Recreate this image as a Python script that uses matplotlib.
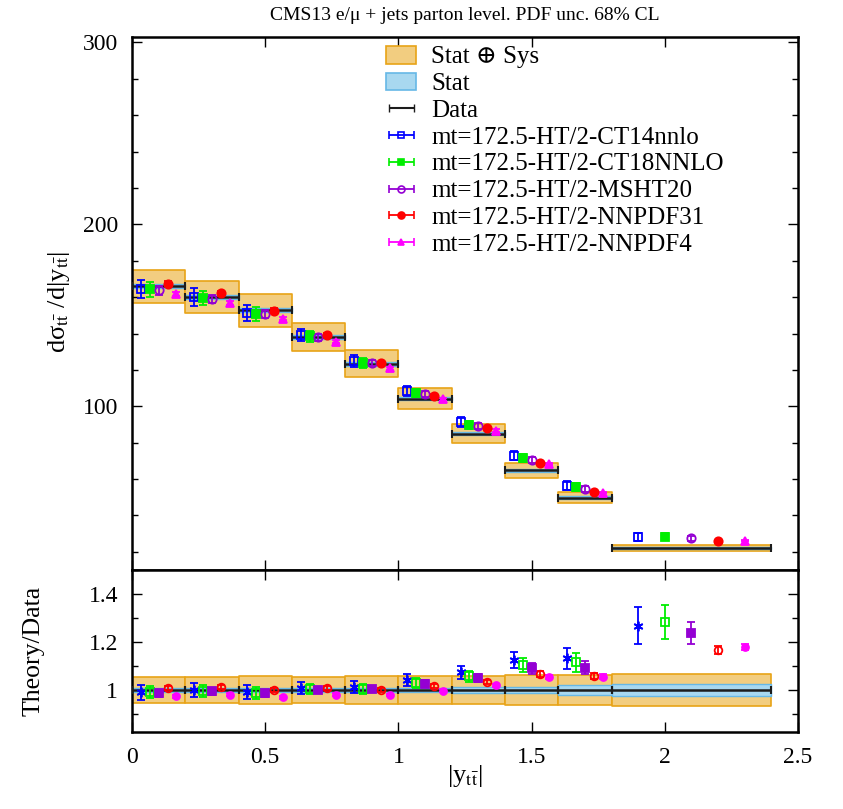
import numpy as np
import matplotlib
matplotlib.use('Agg')
import matplotlib.pyplot as plt
from matplotlib.ticker import MultipleLocator, FuncFormatter
from matplotlib.patches import Patch

plt.rcParams['font.family'] = ['Liberation Serif', 'DejaVu Serif']
plt.rcParams['mathtext.fontset'] = 'stix'

# bin edges in |y_tt|
edges = [0.0, 0.2, 0.4, 0.6, 0.8, 1.0, 1.2, 1.4, 1.6, 1.8, 2.4]
# measured cross section and relative uncertainties
data = [166, 160, 152.7, 138, 123.4, 104.2, 85, 64.8, 49.8, 22.1]
stat_rel = [0.007, 0.007, 0.007, 0.008, 0.008, 0.009, 0.011, 0.013, 0.020, 0.024]
tot_rel = [0.055, 0.056, 0.059, 0.056, 0.060, 0.057, 0.059, 0.063, 0.064, 0.066]

# theory / data ratios and relative PDF uncertainties
names = ['mt=172.5-HT/2-CT14nnlo', 'mt=172.5-HT/2-CT18NNLO', 'mt=172.5-HT/2-MSHT20',
         'mt=172.5-HT/2-NNPDF31', 'mt=172.5-HT/2-NNPDF4']
ratio_ct14 = [0.990, 1.000, 0.991, 1.009, 1.012, 1.040, 1.074, 1.124, 1.133, 1.267]
ratio_ct18 = [0.990, 0.997, 0.988, 1.004, 1.004, 1.029, 1.057, 1.104, 1.115, 1.283]
ratio_msht = [0.986, 0.994, 0.986, 0.999, 1.004, 1.026, 1.050, 1.090, 1.093, 1.239]
ratio_nn31 = [1.009, 1.013, 0.999, 1.009, 1.001, 1.016, 1.033, 1.066, 1.057, 1.167]
ratio_nn4 = [0.974, 0.980, 0.970, 0.981, 0.979, 0.997, 1.019, 1.054, 1.056, 1.179]
err_ct14 = [0.030, 0.030, 0.030, 0.025, 0.025, 0.025, 0.028, 0.034, 0.044, 0.077]
err_ct18 = [0.025, 0.025, 0.025, 0.022, 0.022, 0.022, 0.024, 0.029, 0.039, 0.070]
err_msht = [0.015, 0.015, 0.015, 0.013, 0.013, 0.015, 0.017, 0.023, 0.028, 0.046]
err_nn31 = [0.008, 0.008, 0.008, 0.008, 0.008, 0.009, 0.010, 0.012, 0.013, 0.015]
err_nn4 = [0.006, 0.006, 0.006, 0.006, 0.006, 0.007, 0.008, 0.009, 0.010, 0.012]

ratios = [ratio_ct14, ratio_ct18, ratio_msht, ratio_nn31, ratio_nn4]
rel_errs = [err_ct14, err_ct18, err_msht, err_nn31, err_nn4]
colors = ['#0000ff', '#00ee00', '#9400d3', '#ff0000', '#ff00ff']
# gnuplot-like point types: top panel and ratio panel differ
top_mk = [('s', 'none', 6), ('s', 'full', 6), ('o', 'none', 6), ('o', 'full', 6), ('^', 'full', 6)]
bot_mk = [((6, 2, 0), 'full', 7), ('s', 'none', 6), ('s', 'full', 6), ('o', 'none', 5.5), ('o', 'full', 5)]

orange_fc, orange_ec = '#f2cd80', '#e8a317'
blue_fc, blue_ec = '#a8d8f0', '#66b8e6'

edges = np.array(edges)
data = np.array(data)
lo, hi = edges[:-1], edges[1:]
width = hi - lo
centers = 0.5 * (lo + hi)

fig = plt.figure(figsize=(8.43, 8.09), dpi=100)
ax1 = fig.add_axes([132/843, 1-570/809, 666/843, 533/809])
ax2 = fig.add_axes([132/843, 1-732/809, 666/843, 162/809])


def draw_bands(ax, val, ratio_mode):
    for i in range(len(lo)):
        v = 1.0 if ratio_mode else val[i]
        t = tot_rel[i] * v
        s = stat_rel[i] * v
        ax.fill_between([lo[i], hi[i]], v - t, v + t, facecolor=orange_fc,
                        edgecolor=orange_ec, lw=1.2, zorder=1)
        ax.fill_between([lo[i], hi[i]], v - s, v + s, facecolor=blue_fc,
                        edgecolor=blue_ec, lw=1.0, zorder=2)
    yv = np.ones(len(lo)) if ratio_mode else val
    ax.errorbar(centers, yv, xerr=width/2, fmt='none', ecolor='#1c1c1c',
                elinewidth=1.8, capsize=3, capthick=1.5, zorder=3)


draw_bands(ax1, data, False)
draw_bands(ax2, data, True)

for k in range(5):
    xk = lo + width * (k + 1) / 6.0
    r = np.array(ratios[k])
    e = np.array(rel_errs[k])
    th = data * r
    m, fs, ms = top_mk[k]
    ax1.errorbar(xk, th, yerr=th * e, fmt=m, color=colors[k], ms=ms,
                 fillstyle=fs, mew=1.3, elinewidth=1.3, capsize=3, capthick=1.3, zorder=5)
    m, fs, ms = bot_mk[k]
    ax2.errorbar(xk, r, yerr=e, fmt='none', ecolor=colors[k], elinewidth=1.3,
                 capsize=3, capthick=1.3, zorder=5)
    ax2.plot(xk, r, ls='none', marker=m, color=colors[k], ms=ms, fillstyle=fs,
             mew=1.3, zorder=6)

# legend handles
hs, ls = [], []
hs.append(Patch(facecolor=orange_fc, edgecolor=orange_ec, lw=1.2)); ls.append('Stat ⊕ Sys')
hs.append(Patch(facecolor=blue_fc, edgecolor=blue_ec, lw=1.2)); ls.append('Stat')
hs.append(ax1.errorbar([np.nan], [np.nan], xerr=[0.1], fmt='none', ecolor='#1c1c1c',
                       elinewidth=1.5, capsize=3))
ls.append('Data')
for k in range(5):
    m, fs, ms = top_mk[k]
    hs.append(ax1.errorbar([np.nan], [np.nan], xerr=[0.1], fmt=m, color=colors[k], ms=5,
                           fillstyle=fs, mew=1.2, elinewidth=1.3, capsize=3))
    ls.append(names[k])
fig.legend(hs, ls, loc='upper left', bbox_to_anchor=(386/843, 1-46/809), frameon=False,
           fontsize=18, borderpad=0, labelspacing=0.17, handlelength=1.2,
           handletextpad=0.6, borderaxespad=0)

fmt = FuncFormatter(lambda v, p: '%g' % v)
for ax in (ax1, ax2):
    ax.set_xlim(0, 2.5)
    ax.xaxis.set_major_locator(MultipleLocator(0.5))
    ax.xaxis.set_major_formatter(fmt)
    ax.yaxis.set_major_formatter(fmt)
    ax.tick_params(which='both', direction='in', top=True, right=True, labelsize=17)
    ax.tick_params(which='major', length=7, width=1)
    ax.tick_params(which='minor', length=4, width=1)
    ax.tick_params(axis='y', pad=10)
    ax.tick_params(axis='x', pad=11)
    for sp in ax.spines.values():
        sp.set_linewidth(1.8)

ax1.set_ylim(10, 303)
ax1.yaxis.set_major_locator(MultipleLocator(100))
ax1.yaxis.set_minor_locator(MultipleLocator(20))
ax1.tick_params(axis='x', labelbottom=False)

ax2.set_ylim(0.825, 1.5)
ax2.yaxis.set_major_locator(MultipleLocator(0.2))
ax2.yaxis.set_minor_locator(MultipleLocator(0.1))

fig.text(59/843, 1-302/809, r'dσ$_{\mathrm{t\bar{t}}}$ /d|y$_{\mathrm{t\bar{t}}}$|',
         rotation=90, ha='center', va='center', fontsize=19)
fig.text(34/843, 1-651/809, 'Theory/Data', rotation=90, ha='center', va='center',
         fontsize=18.5)
fig.text(465/843, 1-776/809, r'|y$_{\mathrm{t\bar{t}}}$|', ha='center', va='center',
         fontsize=19)
fig.text(465/843, 1-15/809, 'CMS13 e/μ + jets parton level. PDF unc. 68% CL',
         ha='center', va='center', fontsize=14)

fig.savefig('out.png', dpi=100)
